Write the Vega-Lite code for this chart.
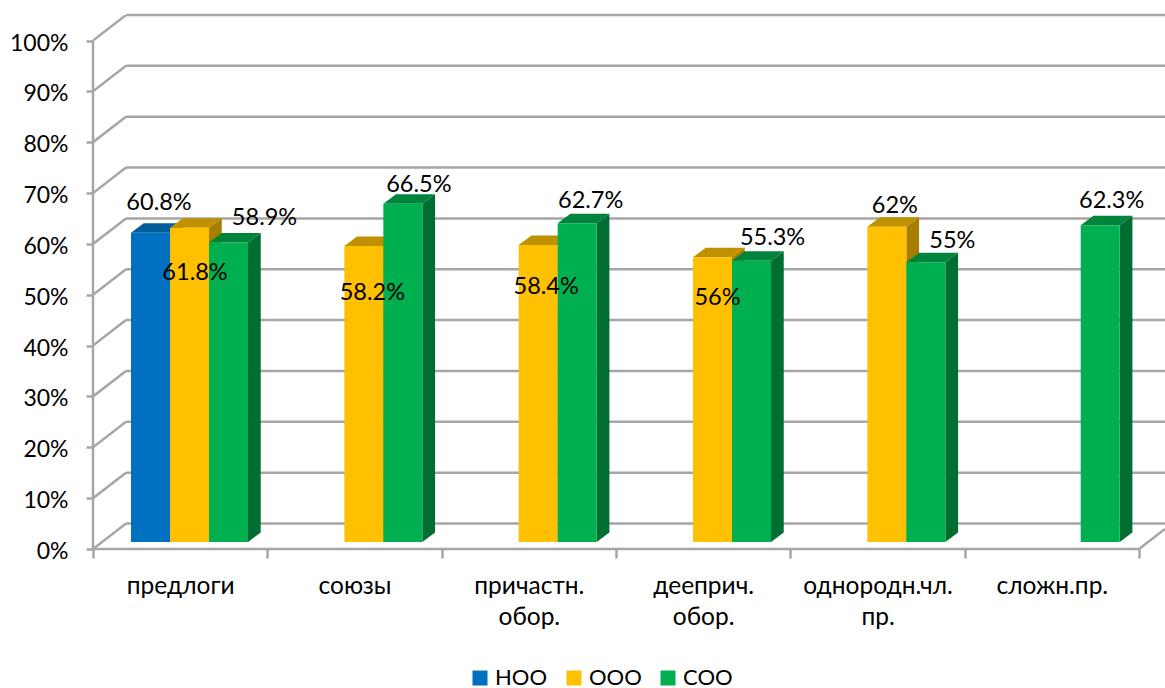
{
"$schema":"https://vega.github.io/schema/vega-lite/v6.json",
"autosize":{"type":"none"},
"width":1072,"height":534,
"padding":{"left":93,"top":15,"right":0,"bottom":139},
"background":"white",
"config":{"view":{"stroke":null},"font":"Lato"},
"datasets":{
"bars":[
{"cat":"предлоги","series":"НОО","value":60.8},
{"cat":"предлоги","series":"ООО","value":61.8},
{"cat":"предлоги","series":"СОО","value":58.9},
{"cat":"союзы","series":"ООО","value":58.2},
{"cat":"союзы","series":"СОО","value":66.5},
{"cat":"причастн. обор.","series":"ООО","value":58.4},
{"cat":"причастн. обор.","series":"СОО","value":62.7},
{"cat":"дееприч. обор.","series":"ООО","value":56},
{"cat":"дееприч. обор.","series":"СОО","value":55.3},
{"cat":"однородн.чл. пр.","series":"ООО","value":62},
{"cat":"однородн.чл. пр.","series":"СОО","value":55},
{"cat":"сложн.пр.","series":"СОО","value":62.3}
],
"levels":[{"v":0},{"v":10},{"v":20},{"v":30},{"v":40},{"v":50},{"v":60},{"v":70},{"v":80},{"v":90},{"v":100}]
},
"resolve":{"scale":{"color":"independent"},"axis":{"x":"independent","y":"independent"}},
"layer":[
{"data":{"name":"levels"},"transform":[{"calculate":"datum.v+5.015","as":"back"}],
 "mark":{"type":"rule","color":"#A6A6A6","strokeWidth":2.5,"clip":true},
 "encoding":{
  "x":{"datum":0,"type":"quantitative","scale":{"domain":[0,6.149],"nice":false},"axis":{"orient":"bottom","values":[0,1,2,3,4,5,6],"labels":false,"domain":false,"grid":false,"tickSize":9,"tickColor":"#A6A6A6","tickWidth":2.5,"title":null}},
  "x2":{"datum":0.1893},
  "y":{"field":"v","type":"quantitative","scale":{"domain":[0,105.015],"nice":false},"axis":{"orient":"left","values":[0,10,20,30,40,50,60,70,80,90,100],"labelExpr":"datum.value+'%'","domain":false,"grid":false,"tickSize":7,"tickColor":"#A6A6A6","tickWidth":2.5,"labelPadding":18,"labelOffset":2.5,"labelFont":"Lato","labelFontSize":23,"labelColor":"#000","title":null}},
  "y2":{"field":"back"}
 }},
{"data":{"name":"levels"},"transform":[{"calculate":"datum.v+5.015","as":"back"}],
 "mark":{"type":"rule","color":"#A6A6A6","strokeWidth":2.5},
 "encoding":{
  "x":{"datum":0.1893,"type":"quantitative","scale":{"domain":[0,6.149],"nice":false},"axis":{"orient":"bottom","values":[0.5,1.5,2.5,3.5,4.5,5.5],"labelExpr":"[['предлоги'],['союзы'],['причастн.','обор.'],['дееприч.','обор.'],['однородн.чл.','пр.'],['сложн.пр.']][floor(datum.value)]","ticks":false,"domain":false,"grid":false,"labelPadding":25.5,"labelFont":"Lato","labelFontSize":24.5,"labelColor":"#000","labelLineHeight":31,"labelOverlap":false,"labelBound":false,"labelFlush":false,"labelBaseline":"top","title":null}},
  "x2":{"datum":6.149},
  "y":{"field":"back","type":"quantitative","scale":{"domain":[0,105.015],"nice":false},"axis":null}
 }},
{"data":{"values":[{"a":0}]},
 "mark":{"type":"rule","color":"#A6A6A6","strokeWidth":2.5},
 "encoding":{"x":{"datum":0,"type":"quantitative","scale":{"domain":[0,6.149],"nice":false},"axis":null},
 "y":{"datum":0,"type":"quantitative","scale":{"domain":[0,105.015],"nice":false},"axis":null},"y2":{"datum":100}}},
{"data":{"values":[{"a":0}]},
 "mark":{"type":"rule","color":"#A6A6A6","strokeWidth":2.5},
 "encoding":{"x":{"datum":0,"type":"quantitative","scale":{"domain":[0,6.149],"nice":false},"axis":null},"x2":{"datum":6},
 "y":{"datum":0,"type":"quantitative","scale":{"domain":[0,105.015],"nice":false},"axis":null}}},
{"data":{"values":[{"a":0}]},
 "mark":{"type":"rule","color":"#A6A6A6","strokeWidth":2.5},
 "encoding":{"x":{"datum":6,"type":"quantitative","scale":{"domain":[0,6.149],"nice":false},"axis":null},"x2":{"datum":6.149},
 "y":{"datum":0,"type":"quantitative","scale":{"domain":[0,105.015],"nice":false},"axis":null},"y2":{"datum":3.95}}},
{"data":{"name":"bars"},
 "transform":[
  {"calculate":"indexof(['предлоги','союзы','причастн. обор.','дееприч. обор.','однородн.чл. пр.','сложн.пр.'],datum.cat)","as":"idx"},
  {"calculate":"indexof(['НОО','ООО','СОО'],datum.series)","as":"s"},
  {"calculate":"datum.cat+'|'+datum.series","as":"id"},
  {"calculate":"datum.idx+0.5536+(datum.s-1.5)*0.2237","as":"x0"},
  {"calculate":"datum.x0+0.2237","as":"x1"},
  {"calculate":"datum.x0+0.11185","as":"xc"},
  {"calculate":"datum.value+1.377","as":"top"},
  {"calculate":"datum.value+'%'","as":"label"}
 ],
 "resolve":{"scale":{"color":"independent"}},
 "layer":[
 {"transform":[{"calculate":"[0,1]","as":"t"},{"flatten":["t"]},
   {"calculate":"datum.x1+datum.t*0.0729","as":"sx"},{"calculate":"datum.top+datum.t*1.87","as":"sy"},{"calculate":"1.377+datum.t*1.87","as":"sy2"}],
  "mark":{"type":"area","orient":"vertical","line":false},
  "encoding":{
   "x":{"field":"sx","type":"quantitative","scale":{"domain":[0,6.149],"nice":false},"axis":null},
   "y":{"field":"sy","type":"quantitative","stack":null,"scale":{"domain":[0,105.015],"nice":false},"axis":null},
   "y2":{"field":"sy2"},
   "detail":{"field":"id"},
   "color":{"field":"series","type":"nominal","scale":{"domain":["НОО","ООО","СОО"],"range":["#00538C","#A87E00","#006E32"]},"legend":null}
  }},
 {"transform":[{"calculate":"[0,1]","as":"t"},{"flatten":["t"]},
   {"calculate":"datum.x0+datum.t*0.0729","as":"tx"},{"calculate":"datum.x1+datum.t*0.0729","as":"tx2"},{"calculate":"datum.top+datum.t*1.87","as":"ty"}],
  "mark":{"type":"area","orient":"horizontal","line":false},
  "encoding":{
   "x":{"field":"tx","type":"quantitative","stack":null,"scale":{"domain":[0,6.149],"nice":false},"axis":null},
   "x2":{"field":"tx2"},
   "y":{"field":"ty","type":"quantitative","scale":{"domain":[0,105.015],"nice":false},"axis":null},
   "detail":{"field":"id"},
   "color":{"field":"series","type":"nominal","scale":{"domain":["НОО","ООО","СОО"],"range":["#005C9A","#BF9000","#00843C"]},"legend":null}
  }},
 {"mark":{"type":"rect"},
  "encoding":{
   "x":{"field":"x0","type":"quantitative","scale":{"domain":[0,6.149],"nice":false},"axis":null},
   "x2":{"field":"x1"},
   "y":{"field":"top","type":"quantitative","scale":{"domain":[0,105.015],"nice":false},"axis":null},
   "y2":{"datum":1.377},
   "color":{"field":"series","type":"nominal","scale":{"domain":["НОО","ООО","СОО"],"range":["#0070C0","#FFC000","#00B050"]},
    "legend":{"title":null,"orient":"none","legendX":376,"legendY":652,"direction":"horizontal","symbolType":"square","symbolSize":225,"symbolStrokeWidth":0,"labelFont":"Lato","labelFontSize":22,"labelColor":"#000","columnPadding":15,"labelOffset":4}}
  }},
 {"transform":[{"filter":"datum.id=='предлоги|НОО'"}],"mark":{"type":"text","fontSize":23.5,"font":"Lato","color":"#000","dx":8.5,"dy":-30},"encoding":{"x":{"field":"xc","type":"quantitative","scale":{"domain":[0,6.149],"nice":false},"axis":null},"y":{"field":"top","type":"quantitative","scale":{"domain":[0,105.015],"nice":false},"axis":null},"text":{"field":"label"}}},
 {"transform":[{"filter":"datum.id=='предлоги|ООО'"}],"mark":{"type":"text","fontSize":23.5,"font":"Lato","color":"#000","dx":5.5,"dy":45},"encoding":{"x":{"field":"xc","type":"quantitative","scale":{"domain":[0,6.149],"nice":false},"axis":null},"y":{"field":"top","type":"quantitative","scale":{"domain":[0,105.015],"nice":false},"axis":null},"text":{"field":"label"}}},
 {"transform":[{"filter":"datum.id=='предлоги|СОО'"}],"mark":{"type":"text","fontSize":23.5,"font":"Lato","color":"#000","dx":36,"dy":-24},"encoding":{"x":{"field":"xc","type":"quantitative","scale":{"domain":[0,6.149],"nice":false},"axis":null},"y":{"field":"top","type":"quantitative","scale":{"domain":[0,105.015],"nice":false},"axis":null},"text":{"field":"label"}}},
 {"transform":[{"filter":"datum.id=='союзы|ООО'"}],"mark":{"type":"text","fontSize":23.5,"font":"Lato","color":"#000","dx":8.5,"dy":47},"encoding":{"x":{"field":"xc","type":"quantitative","scale":{"domain":[0,6.149],"nice":false},"axis":null},"y":{"field":"top","type":"quantitative","scale":{"domain":[0,105.015],"nice":false},"axis":null},"text":{"field":"label"}}},
 {"transform":[{"filter":"datum.id=='союзы|СОО'"}],"mark":{"type":"text","fontSize":23.5,"font":"Lato","color":"#000","dx":16,"dy":-18.5},"encoding":{"x":{"field":"xc","type":"quantitative","scale":{"domain":[0,6.149],"nice":false},"axis":null},"y":{"field":"top","type":"quantitative","scale":{"domain":[0,105.015],"nice":false},"axis":null},"text":{"field":"label"}}},
 {"transform":[{"filter":"datum.id=='причастн. обор.|ООО'"}],"mark":{"type":"text","fontSize":23.5,"font":"Lato","color":"#000","dx":8,"dy":42},"encoding":{"x":{"field":"xc","type":"quantitative","scale":{"domain":[0,6.149],"nice":false},"axis":null},"y":{"field":"top","type":"quantitative","scale":{"domain":[0,105.015],"nice":false},"axis":null},"text":{"field":"label"}}},
 {"transform":[{"filter":"datum.id=='причастн. обор.|СОО'"}],"mark":{"type":"text","fontSize":23.5,"font":"Lato","color":"#000","dx":13.5,"dy":-22},"encoding":{"x":{"field":"xc","type":"quantitative","scale":{"domain":[0,6.149],"nice":false},"axis":null},"y":{"field":"top","type":"quantitative","scale":{"domain":[0,105.015],"nice":false},"axis":null},"text":{"field":"label"}}},
 {"transform":[{"filter":"datum.id=='дееприч. обор.|ООО'"}],"mark":{"type":"text","fontSize":23.5,"font":"Lato","color":"#000","dx":5,"dy":41},"encoding":{"x":{"field":"xc","type":"quantitative","scale":{"domain":[0,6.149],"nice":false},"axis":null},"y":{"field":"top","type":"quantitative","scale":{"domain":[0,105.015],"nice":false},"axis":null},"text":{"field":"label"}}},
 {"transform":[{"filter":"datum.id=='дееприч. обор.|СОО'"}],"mark":{"type":"text","fontSize":23.5,"font":"Lato","color":"#000","dx":21,"dy":-23},"encoding":{"x":{"field":"xc","type":"quantitative","scale":{"domain":[0,6.149],"nice":false},"axis":null},"y":{"field":"top","type":"quantitative","scale":{"domain":[0,105.015],"nice":false},"axis":null},"text":{"field":"label"}}},
 {"transform":[{"filter":"datum.id=='однородн.чл. пр.|ООО'"}],"mark":{"type":"text","fontSize":23.5,"font":"Lato","color":"#000","dx":8,"dy":-21},"encoding":{"x":{"field":"xc","type":"quantitative","scale":{"domain":[0,6.149],"nice":false},"axis":null},"y":{"field":"top","type":"quantitative","scale":{"domain":[0,105.015],"nice":false},"axis":null},"text":{"field":"label"}}},
 {"transform":[{"filter":"datum.id=='однородн.чл. пр.|СОО'"}],"mark":{"type":"text","fontSize":23.5,"font":"Lato","color":"#000","dx":26.5,"dy":-21},"encoding":{"x":{"field":"xc","type":"quantitative","scale":{"domain":[0,6.149],"nice":false},"axis":null},"y":{"field":"top","type":"quantitative","scale":{"domain":[0,105.015],"nice":false},"axis":null},"text":{"field":"label"}}},
 {"transform":[{"filter":"datum.id=='сложн.пр.|СОО'"}],"mark":{"type":"text","fontSize":23.5,"font":"Lato","color":"#000","dx":11.5,"dy":-24},"encoding":{"x":{"field":"xc","type":"quantitative","scale":{"domain":[0,6.149],"nice":false},"axis":null},"y":{"field":"top","type":"quantitative","scale":{"domain":[0,105.015],"nice":false},"axis":null},"text":{"field":"label"}}}
 ]}
]
}
